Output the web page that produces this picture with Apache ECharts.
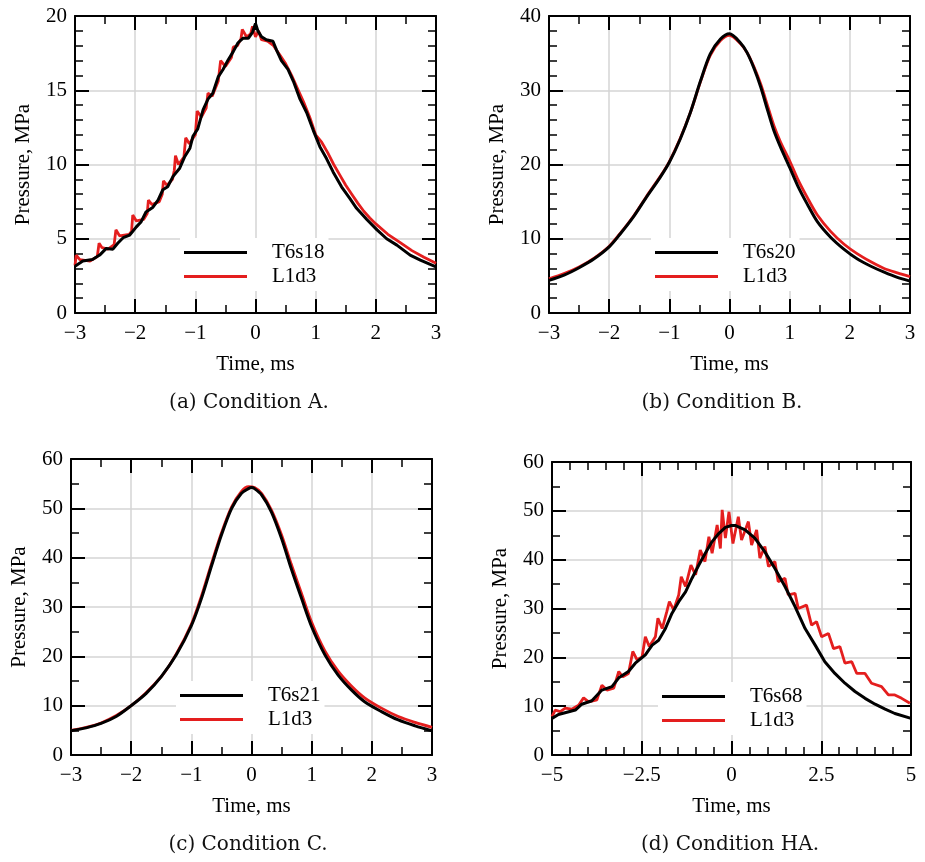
<!DOCTYPE html>
<html>
<head>
<meta charset="utf-8">
<script src="https://cdn.jsdelivr.net/npm/echarts@6/dist/echarts.min.js"></script>
<style>
html,body{margin:0;padding:0;background:#fff;}
#chart{width:925px;height:862px;}
</style>
</head>
<body>
<div id="chart"></div>
<script>
// ---------- Data (time in ms, pressure in MPa) ----------
// (a) Condition A
const tA_T6s18 = [-3.0,-2.87,-2.71,-2.59,-2.48,-2.37,-2.29,-2.2,-2.09,-1.98,-1.9,-1.82,-1.71,-1.62,-1.54,-1.46,-1.37,-1.26,-1.18,-1.09,-1.04,-0.96,-0.87,-0.79,-0.71,-0.62,-0.54,-0.46,-0.37,-0.29,-0.21,-0.12,-0.05,0.0,0.04,0.1,0.18,0.29,0.35,0.43,0.54,0.63,0.74,0.85,0.96,1.07,1.18,1.29,1.43,1.57,1.68,1.85,2.02,2.18,2.35,2.57,2.74,3.0];
const pA_T6s18 = [3.15,3.5,3.6,3.9,4.35,4.3,4.7,5.07,5.25,5.8,6.15,6.8,7.1,7.6,8.3,8.5,9.2,9.75,10.5,11.1,11.9,12.4,13.7,14.4,14.8,15.9,16.4,17.0,17.6,18.2,18.5,18.5,18.9,19.5,19.0,18.6,18.4,18.3,17.7,17.0,16.4,15.6,14.4,13.5,12.3,11.2,10.4,9.5,8.5,7.7,7.05,6.3,5.6,5.0,4.57,3.9,3.56,3.1];
const tA_L1d3 = [-3.0,-2.98,-2.92,-2.75,-2.63,-2.6,-2.55,-2.45,-2.35,-2.32,-2.26,-2.1,-2.06,-2.04,-1.98,-1.86,-1.8,-1.78,-1.72,-1.6,-1.55,-1.53,-1.47,-1.38,-1.35,-1.33,-1.28,-1.19,-1.16,-1.1,-1.0,-0.97,-0.9,-0.82,-0.79,-0.72,-0.62,-0.58,-0.5,-0.4,-0.37,-0.3,-0.24,-0.22,-0.15,-0.08,-0.05,0.0,0.05,0.1,0.2,0.3,0.4,0.5,0.6,0.7,0.8,0.9,1.0,1.1,1.2,1.3,1.4,1.5,1.6,1.7,1.8,1.9,2.0,2.2,2.4,2.6,2.8,3.0];
const pA_L1d3 = [3.2,3.9,3.6,3.5,3.8,4.7,4.4,4.3,4.6,5.6,5.2,5.3,5.5,6.6,6.2,6.3,6.7,7.6,7.3,7.5,8.0,8.9,8.6,9.0,9.6,10.6,10.0,10.5,11.8,11.4,12.0,13.6,13.2,13.8,14.8,14.6,15.6,17.0,16.6,17.2,17.9,18.0,18.5,19.1,18.6,18.8,19.3,18.6,19.0,18.4,18.3,18.0,17.4,16.8,16.0,15.1,14.2,13.2,12.0,11.5,10.8,10.0,9.3,8.6,8.0,7.4,6.85,6.4,6.0,5.3,4.75,4.2,3.75,3.35];

// (b) Condition B
const tB_T6s20 = [-3,-2.75,-2.5,-2.25,-2,-1.82,-1.6,-1.38,-1.15,-1,-0.82,-0.65,-0.48,-0.32,-0.15,0,0.18,0.29,0.41,0.52,0.63,0.74,0.85,1,1.13,1.29,1.46,1.68,1.9,2.12,2.35,2.57,2.79,3];
const pB_T6s20 = [4.4,5.1,6.1,7.3,8.9,10.6,12.9,15.6,18.3,20.3,23.4,27.0,31.3,34.9,36.9,37.6,36.4,35.1,32.9,30.4,27.4,24.5,22.3,19.6,17.2,14.7,12.3,10.2,8.6,7.3,6.3,5.5,4.8,4.3];
const tB_L1d3 = [-3,-2.75,-2.5,-2.25,-2,-1.82,-1.6,-1.38,-1.15,-1,-0.82,-0.65,-0.48,-0.32,-0.15,0,0.18,0.29,0.41,0.52,0.63,0.74,0.85,1,1.13,1.29,1.46,1.68,1.9,2.12,2.35,2.57,2.79,3];
const pB_L1d3 = [4.6,5.3,6.2,7.4,9.0,10.7,13.0,15.7,18.4,20.4,23.5,27.0,31.2,34.7,36.7,37.4,36.3,35.1,33.1,30.8,28.0,25.2,23.0,20.5,18.1,15.6,13.2,11.0,9.3,8.0,6.9,6.0,5.4,4.9];

// (c) Condition C
const tC_T6s21 = [-3,-2.75,-2.5,-2.25,-2,-1.75,-1.5,-1.25,-1,-0.83,-0.66,-0.5,-0.33,-0.17,-0.05,0,0.05,0.17,0.33,0.5,0.66,0.83,1,1.22,1.44,1.66,1.88,2.16,2.44,2.72,3];
const pC_T6s21 = [4.9,5.5,6.4,7.8,10.0,12.5,15.9,20.3,26.2,31.8,38.5,44.6,50.0,53.0,54.0,54.2,54.0,52.7,49.3,43.9,37.8,31.8,26.0,20.3,16.2,13.2,10.8,8.8,7.1,5.9,4.9];
const tC_L1d3 = [-3,-2.5,-2,-1.5,-1.25,-1,-0.83,-0.66,-0.5,-0.33,-0.17,-0.05,0.05,0.17,0.33,0.5,0.66,0.83,1,1.22,1.44,1.66,1.88,2.16,2.44,2.72,3];
const pC_L1d3 = [5.0,6.5,10.0,15.9,20.5,26.5,32.3,39.0,45.0,50.3,53.4,54.4,54.2,53.0,49.7,44.6,38.7,32.8,26.9,21.1,17.0,14.0,11.6,9.5,7.8,6.6,5.6];

// (d) Condition HA
const tD_T6s68 = [-5,-4.82,-4.35,-4.17,-3.89,-3.61,-3.33,-3.14,-2.87,-2.68,-2.4,-2.21,-2.03,-1.84,-1.66,-1.47,-1.28,-1.1,-0.91,-0.73,-0.54,-0.35,-0.17,0,0.1,0.38,0.65,0.93,1.21,1.49,1.77,2.05,2.33,2.6,2.88,3.16,3.44,3.72,4.0,4.28,4.55,5.0];
const pD_T6s68 = [7.5,8.3,9.2,10.4,11.1,13.3,14.0,15.8,17.1,18.8,20.5,22.5,23.5,25.9,29.0,31.4,33.4,36.2,38.9,41.3,43.7,45.4,46.6,47.0,47.0,46.1,44.4,41.6,38.2,34.5,30.4,25.9,22.5,19.1,16.7,14.7,13.0,11.6,10.4,9.4,8.5,7.5];
const tD_L1d3 = [-5.0,-4.91,-4.77,-4.63,-4.45,-4.26,-4.12,-3.98,-3.75,-3.61,-3.47,-3.28,-3.14,-3.03,-2.87,-2.75,-2.63,-2.49,-2.4,-2.29,-2.12,-2.05,-1.93,-1.8,-1.73,-1.61,-1.47,-1.4,-1.28,-1.13,-1.0,-0.87,-0.74,-0.63,-0.54,-0.4,-0.31,-0.26,-0.17,-0.07,0.04,0.19,0.28,0.47,0.56,0.7,0.79,0.93,1.03,1.21,1.3,1.49,1.58,1.77,1.86,2.09,2.23,2.37,2.51,2.7,2.84,3.02,3.16,3.35,3.49,3.72,3.9,4.18,4.37,4.55,4.74,4.97];
const pD_L1d3 = [7.85,9.2,8.9,9.6,9.4,10.2,11.7,10.9,11.3,14.3,13.3,13.7,17.1,16.0,16.7,21.2,19.5,20.1,24.2,22.2,24.2,28.0,25.9,29.4,31.4,29.7,32.8,36.5,34.5,38.9,36.9,42.0,39.6,44.7,41.3,47.1,42.3,50.2,44.4,49.8,43.3,48.8,44.0,47.8,43.0,46.1,40.3,42.7,38.6,39.6,35.5,36.2,32.8,33.1,30.0,30.7,26.6,27.3,24.2,24.9,21.8,22.2,18.8,19.1,16.7,16.7,14.7,14.0,12.3,12.3,11.6,10.6];

// Axis ticks
const xTicksABC = [-3, -2, -1, 0, 1, 2, 3];
const xTicksD = [-5, -2.5, 0, 2.5, 5];
const yTicksA = [0, 5, 10, 15, 20];
const yTicksB = [0, 10, 20, 30, 40];
const yTicksCD = [0, 10, 20, 30, 40, 50, 60];

const captions = ['(a) Condition A.', '(b) Condition B.', '(c) Condition C.', '(d) Condition HA.'];
const xTitle = 'Time, ms';
const yTitle = 'Pressure, MPa';
const simName = 'L1d3';

// ---------- Layout ----------
const FONT = 'Liberation Serif';
const panels = [
  {grid:{left:75, top:16, width:361, height:297}, xt:xTicksABC, yt:yTicksA, xMinor:2, yMinor:5,
   exp:['T6s18', tA_T6s18, pA_T6s18], sim:[tA_L1d3, pA_L1d3], smooth:false,
   leg:{left:180, top:238}, cap:{x:249, y:403}},
  {grid:{left:549, top:16, width:361, height:297}, xt:xTicksABC, yt:yTicksB, xMinor:2, yMinor:5,
   exp:['T6s20', tB_T6s20, pB_T6s20], sim:[tB_L1d3, pB_L1d3], smooth:0.3,
   leg:{left:651, top:238}, cap:{x:722, y:403}},
  {grid:{left:71, top:459, width:361, height:296}, xt:xTicksABC, yt:yTicksCD, xMinor:2, yMinor:2,
   exp:['T6s21', tC_T6s21, pC_T6s21], sim:[tC_L1d3, pC_L1d3], smooth:0.3,
   leg:{left:176, top:681}, cap:{x:248, y:845}},
  {grid:{left:552, top:462, width:359, height:293}, xt:xTicksD, yt:yTicksCD, xMinor:5, yMinor:2,
   exp:['T6s68', tD_T6s68, pD_T6s68], sim:[tD_L1d3, pD_L1d3], smooth:false,
   leg:{left:658, top:682}, cap:{x:730, y:845}}
];

const zip = (a, b) => a.map((v, i) => [v, b[i]]);
const fmt = v => String(v).replace('-', '\u2212');
const txt = {fontFamily: FONT, fontSize: 21, color: '#000'};

function axisBase(ticks, minor, gi, position, main, isX) {
  return {
    type: 'value', gridIndex: gi, position: position,
    min: ticks[0], max: ticks[ticks.length - 1], interval: ticks[1] - ticks[0],
    name: main ? (isX ? xTitle : yTitle) : '',
    nameLocation: 'middle', nameGap: 41, nameTextStyle: txt,
    axisLine: {show: true, onZero: false, lineStyle: {color: '#000', width: 2}},
    axisTick: {show: true, inside: true, length: 14, lineStyle: {color: '#000', width: 2}},
    minorTick: {show: true, splitNumber: minor, length: 8, lineStyle: {color: '#000', width: 1.5}},
    splitLine: {show: main, lineStyle: {color: '#d4d4d4', width: 1.5}},
    axisLabel: {show: main, margin: isX ? 10 : 8, formatter: fmt, fontFamily: FONT, fontSize: 21, color: '#000'}
  };
}

const grid = [], xAxis = [], yAxis = [], series = [], legend = [], graphic = [];
panels.forEach((p, i) => {
  grid.push(Object.assign({containLabel: false}, p.grid));
  xAxis[i] = axisBase(p.xt, p.xMinor, i, 'bottom', true, true);
  yAxis[i] = axisBase(p.yt, p.yMinor, i, 'left', true, false);
  xAxis[i + 4] = axisBase(p.xt, p.xMinor, i, 'top', false, true);
  yAxis[i + 4] = axisBase(p.yt, p.yMinor, i, 'right', false, false);
  series.push({
    type: 'line', name: simName, xAxisIndex: i, yAxisIndex: i, data: zip(p.sim[0], p.sim[1]),
    showSymbol: false, symbol: 'none', smooth: p.smooth, z: 2,
    lineStyle: {color: '#e41e1e', width: 2.8}, itemStyle: {color: '#e41e1e'}
  });
  series.push({
    type: 'line', name: p.exp[0], xAxisIndex: i, yAxisIndex: i, data: zip(p.exp[1], p.exp[2]),
    showSymbol: false, symbol: 'none', smooth: p.smooth, z: 3,
    lineStyle: {color: '#000', width: 3}, itemStyle: {color: '#000'}
  });
  legend.push({
    data: [p.exp[0], simName], orient: 'vertical', left: p.leg.left, top: p.leg.top,
    icon: 'rect', itemWidth: 63, itemHeight: 3, itemGap: 3, padding: 4,
    backgroundColor: '#fff', selectedMode: false, z: 4,
    textStyle: {fontFamily: FONT, fontSize: 21, color: '#000', lineHeight: 21, padding: [0, 0, 0, 20]}
  });
  graphic.push({
    type: 'text', x: p.cap.x, y: p.cap.y,
    style: {text: captions[i], textAlign: 'center', textVerticalAlign: 'middle',
            font: '20px "DejaVu Serif"', fill: '#111'}
  });
});

const chart = echarts.init(document.getElementById('chart'), null, {renderer: 'canvas'});
chart.setOption({
  animation: false, backgroundColor: '#fff',
  grid, xAxis, yAxis, series, legend, graphic
});
</script>
</body>
</html>
